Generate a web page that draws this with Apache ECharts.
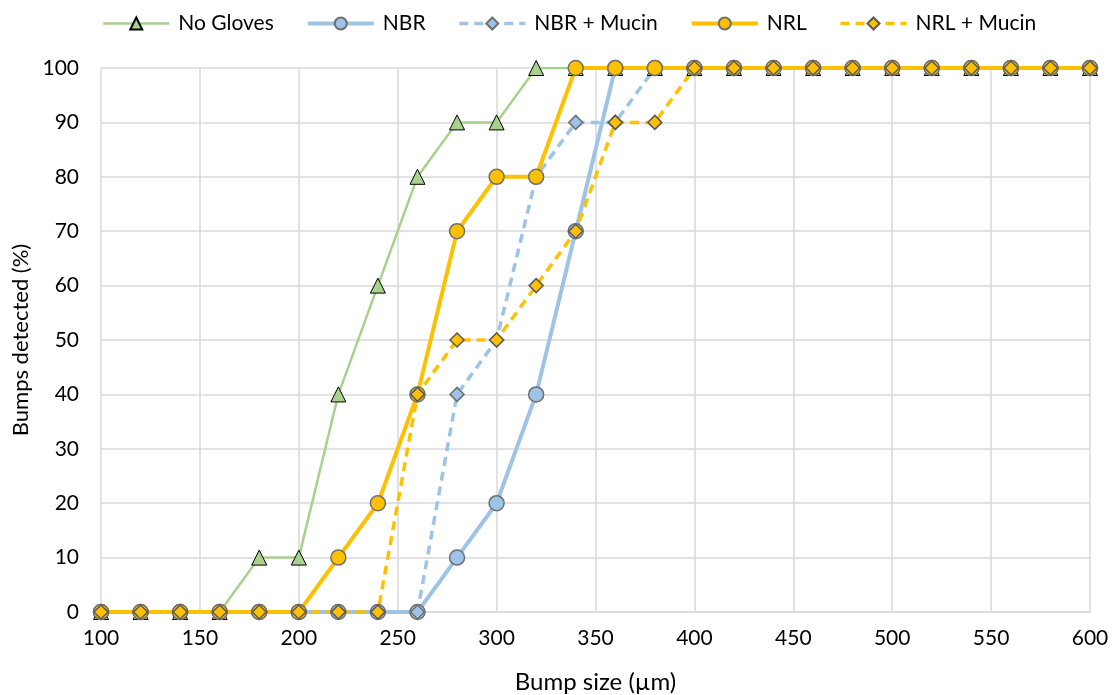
<!DOCTYPE html>
<html><head><meta charset="utf-8">
<script src="https://cdn.jsdelivr.net/npm/echarts@6/dist/echarts.min.js"></script>
<style>html,body{margin:0;padding:0;background:#fff}#c{width:1112px;height:695px}</style>
</head><body><div id="c"></div>
<script>
const xValues = [100,120,140,160,180,200,220,240,260,280,300,320,340,360,380,400,420,440,460,480,500,520,540,560,580,600];
const noGloves   = [0,0,0,0,10,10,40,60,80,90,90,100,100,100,100,100,100,100,100,100,100,100,100,100,100,100];
const nbr        = [0,0,0,0,0,0,0,0,0,10,20,40,70,100,100,100,100,100,100,100,100,100,100,100,100,100];
const nbrMucin   = [0,0,0,0,0,0,0,0,0,40,50,80,90,90,100,100,100,100,100,100,100,100,100,100,100,100];
const nrl        = [0,0,0,0,0,0,10,20,40,70,80,80,100,100,100,100,100,100,100,100,100,100,100,100,100,100];
const nrlMucin   = [0,0,0,0,0,0,0,0,40,50,50,60,70,90,90,100,100,100,100,100,100,100,100,100,100,100];
const seriesNames = ['No Gloves','NBR','NBR + Mucin','NRL','NRL + Mucin'];
const xTitle = 'Bump size (µm)';
const yTitle = 'Bumps detected (%)';

const pair = arr => arr.map((v,i)=>[xValues[i], v]);
const FONT = 'Lato, "Open Sans", sans-serif';
const lineWidths = [2.5, 4, 3.5, 4, 3.5];
const chart = echarts.init(document.getElementById('c'), null, {renderer:'canvas'});
chart.setOption({
  animation:false,
  textStyle:{fontFamily:FONT},
  legend:{
    top:8, left:97, itemGap:32, itemWidth:66, itemHeight:15,
    textStyle:{fontSize:21, color:'#000', fontFamily:FONT, padding:[0,0,0,4]},
    data:seriesNames.map((n,i)=>({name:n, lineStyle:{width:lineWidths[i]}}))
  },
  grid:{left:101, right:22, top:68, bottom:83, containLabel:false, outerBoundsMode:'none'},
  xAxis:{
    type:'value', min:100, max:600, interval:50,
    name:xTitle, nameLocation:'middle', nameGap:58,
    nameTextStyle:{fontSize:24, color:'#000', fontFamily:FONT},
    axisLine:{show:true, lineStyle:{color:'#d9d9d9', width:1.5}},
    axisTick:{show:false},
    axisLabel:{fontSize:21, color:'#000', margin:16, fontFamily:FONT},
    splitLine:{show:true, lineStyle:{color:'#d9d9d9', width:1.5}}
  },
  yAxis:{
    type:'value', min:0, max:100, interval:10,
    name:yTitle, nameLocation:'middle', nameGap:64, nameRotate:90,
    nameTextStyle:{fontSize:22, color:'#000', fontFamily:FONT},
    axisLine:{show:false}, axisTick:{show:false},
    axisLabel:{fontSize:21, color:'#000', margin:22, fontFamily:FONT},
    splitLine:{show:true, lineStyle:{color:'#d9d9d9', width:1.5}}
  },
  series:[
    {name:seriesNames[0], type:'line', data:pair(noGloves), symbol:'triangle', symbolSize:15,
     lineStyle:{color:'#A9D18E', width:lineWidths[0]}, itemStyle:{color:'#A9D18E', borderColor:'#000', borderWidth:1}},
    {name:seriesNames[1], type:'line', data:pair(nbr), symbol:'circle', symbolSize:15,
     lineStyle:{color:'#9DC3E6', width:lineWidths[1]}, itemStyle:{color:'#9DC3E6', borderColor:'#6f6f6f', borderWidth:1.5}},
    {name:seriesNames[2], type:'line', data:pair(nbrMucin), symbol:'diamond', symbolSize:14,
     lineStyle:{color:'#9DC3E6', width:lineWidths[2], type:[9,6]}, itemStyle:{color:'#9DC3E6', borderColor:'#6f6f6f', borderWidth:1.5}},
    {name:seriesNames[3], type:'line', data:pair(nrl), symbol:'circle', symbolSize:15,
     lineStyle:{color:'#FFC000', width:lineWidths[3]}, itemStyle:{color:'#FFC000', borderColor:'#6f6f6f', borderWidth:1.5}},
    {name:seriesNames[4], type:'line', data:pair(nrlMucin), symbol:'diamond', symbolSize:14,
     lineStyle:{color:'#FFC000', width:lineWidths[4], type:[9,6]}, itemStyle:{color:'#FFC000', borderColor:'#595959', borderWidth:1.5}}
  ]
});
</script></body></html>
